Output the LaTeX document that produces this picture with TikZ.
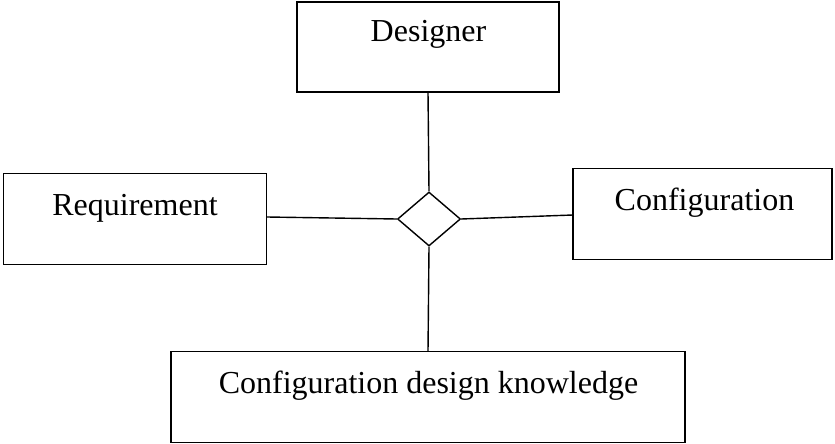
\documentclass[tikz,border=0pt]{standalone}
\usepackage{fontspec}
\setmainfont{Liberation Serif}
\usetikzlibrary{shapes.geometric}
\begin{document}
\begin{tikzpicture}[x=1pt,y=-1pt,
  box/.style={draw,line width=1.4pt,rectangle,inner sep=0pt},
  rel/.style={draw,line width=1.4pt,diamond,inner sep=0pt,minimum width=63pt,minimum height=54pt},
  lbl/.style={anchor=base,inner sep=0pt,font=\fontsize{32}{38}\selectfont},
  link/.style={line width=1.4pt}]
\useasboundingbox (0,0) rectangle (835,444);
% entity boxes
\node[box,minimum width=262pt,minimum height=90pt] (designer) at (428,47) {};
\node[box,minimum width=263pt,minimum height=91pt] (requirement) at (135,219) {};
\node[box,minimum width=259pt,minimum height=91pt] (configuration) at (702.5,214) {};
\node[box,minimum width=514pt,minimum height=91pt] (knowledge) at (428,397) {};
% relationship
\node[rel] (hub) at (429,219) {};
% labels
\node[lbl] (designer-text) at (428.5,42) {Designer};
\node[lbl] (requirement-text) at (135,215) {Requirement};
\node[lbl] (configuration-text) at (704.5,210) {Configuration};
\node[lbl] (knowledge-text) at (428.5,393) {Configuration design knowledge};
% connectors
\coordinate (designer-foot) at (428,92);
\coordinate (knowledge-head) at (428,351.5);
\coordinate (requirement-end) at (267,217);
\coordinate (configuration-end) at (573,215);
\draw[link] (designer-foot) -- (hub.north);
\draw[link] (hub.south) -- (knowledge-head);
\draw[link] (requirement-end) -- (hub.west);
\draw[link] (hub.east) -- (configuration-end);
\end{tikzpicture}
\end{document}
